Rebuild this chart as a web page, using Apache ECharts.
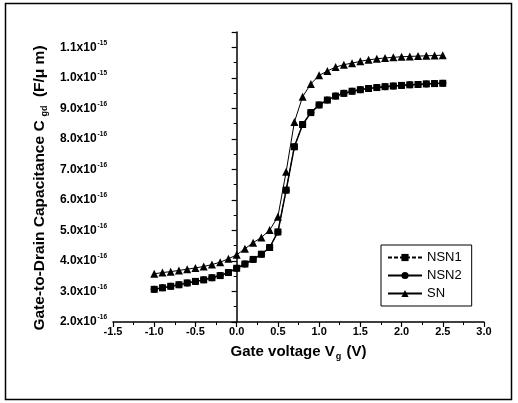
<!DOCTYPE html>
<html>
<head>
<meta charset="utf-8">
<script src="https://cdn.jsdelivr.net/npm/echarts@6/dist/echarts.min.js"></script>
<style>
html,body{margin:0;padding:0;background:#fff;}
#chart{width:518px;height:403px;}
</style>
</head>
<body>
<div id="chart"></div>
<script>
// Gate voltage (V)
const gateVoltage = [-1.0,-0.9,-0.8,-0.7,-0.6,-0.5,-0.4,-0.3,-0.2,-0.1,0.0,0.1,0.2,0.3,0.4,0.5,0.6,0.7,0.8,0.9,1.0,1.1,1.2,1.3,1.4,1.5,1.6,1.7,1.8,1.9,2.0,2.1,2.2,2.3,2.4,2.5];
// Cgd in units of 1e-16 F/um
const nsn1 = [3.07,3.12,3.17,3.22,3.28,3.33,3.38,3.45,3.52,3.62,3.76,3.90,4.05,4.22,4.44,4.95,6.32,7.74,8.47,8.86,9.11,9.27,9.40,9.49,9.56,9.61,9.65,9.68,9.71,9.73,9.75,9.77,9.78,9.80,9.81,9.82];
const nsn2 = [3.07,3.12,3.17,3.22,3.28,3.33,3.38,3.45,3.52,3.62,3.76,3.90,4.05,4.22,4.44,4.95,6.32,7.74,8.47,8.86,9.11,9.27,9.40,9.49,9.56,9.61,9.65,9.68,9.71,9.73,9.75,9.77,9.78,9.80,9.81,9.82];
const sn   = [3.58,3.62,3.65,3.69,3.73,3.77,3.82,3.88,3.96,4.07,4.20,4.40,4.60,4.77,5.01,5.45,6.92,8.55,9.38,9.80,10.08,10.22,10.35,10.43,10.48,10.54,10.59,10.62,10.65,10.67,10.69,10.70,10.71,10.72,10.73,10.74];
const seriesNames = ['NSN1','NSN2','SN'];
const xTickLabels = ['-1.5','-1.0','-0.5','0.0','0.5','1.0','1.5','2.0','2.5','3.0'];
const yTickLabels = ['2.0x10{sup|-16}','3.0x10{sup|-16}','4.0x10{sup|-16}','5.0x10{sup|-16}','6.0x10{sup|-16}','7.0x10{sup|-16}','8.0x10{sup|-16}','9.0x10{sup|-16}','1.0x10{sup|-15}','1.1x10{sup|-15}'];

const pair = arr => gateVoltage.map((x,i)=>[x,arr[i]]);
const font = 'Liberation Sans, Arial, sans-serif';

const chart = echarts.init(document.getElementById('chart'));
chart.setOption({
  animation:false,
  backgroundColor:'#fff',
  grid:{left:113,right:34,top:32,bottom:81},
  graphic:[{type:'rect',shape:{x:5.5,y:3.5,width:506,height:396},style:{fill:'none',stroke:'#000',lineWidth:1.5}}],
  xAxis:{
    type:'value',min:-1.5,max:3.0,interval:0.5,
    name:'Gate voltage V{sub|g} (V)',nameLocation:'middle',nameGap:20,
    nameTextStyle:{fontFamily:font,fontSize:15,fontWeight:'bold',color:'#000',
      rich:{sub:{fontFamily:font,fontSize:9,fontWeight:'bold',color:'#000',padding:[10,1,0,1]}}},
    axisLine:{lineStyle:{color:'#000',width:1.5}},
    axisTick:{inside:false,length:5,lineStyle:{color:'#000',width:1.2}},
    minorTick:{show:true,splitNumber:2,length:3,lineStyle:{color:'#000',width:1}},
    splitLine:{show:false},
    axisLabel:{fontFamily:font,fontSize:11,fontWeight:'bold',color:'#000',margin:4,
      formatter:v=>{const i=Math.round((v+1.5)/0.5);return xTickLabels[i]||'';}}
  },
  yAxis:{
    type:'value',min:2,max:11.5,interval:1,
    name:'Gate-to-Drain Capacitance C{sub|gd} (F/\u03bc m)',nameLocation:'middle',nameGap:64,nameRotate:90,
    nameTextStyle:{fontFamily:font,fontSize:15.5,fontWeight:'bold',color:'#000',padding:[0,22,0,0],
      rich:{sub:{fontFamily:font,fontSize:9,fontWeight:'bold',color:'#000',padding:[10,4,0,4]}}},
    axisLine:{show:true,lineStyle:{color:'#000',width:1.5}},
    axisTick:{show:true,inside:false,length:5,lineStyle:{color:'#000',width:1.2}},
    minorTick:{show:true,splitNumber:2,length:3,lineStyle:{color:'#000',width:1}},
    splitLine:{show:false},
    axisLabel:{fontFamily:font,fontSize:12,fontWeight:'bold',color:'#000',margin:6,
      rich:{sup:{fontFamily:font,fontSize:6.5,fontWeight:'bold',color:'#000',padding:[0,0,9,1]}},
      formatter:v=>{if(Math.abs(v-Math.round(v))>1e-6)return '';const i=Math.round(v-2);return yTickLabels[i]||'';}}
  },
  legend:{
    orient:'vertical',left:381,top:245,
    data:seriesNames,
    itemWidth:34,itemHeight:9,itemGap:5,
    padding:[6,10,6,6],
    borderColor:'#000',borderWidth:1,
    textStyle:{fontFamily:font,fontSize:13,color:'#000'}
  },
  series:[
    {name:'NSN2',type:'line',data:pair(nsn2),symbol:'circle',symbolSize:7,
      lineStyle:{color:'#000',width:1.5},itemStyle:{color:'#000'},z:2},
    {name:'NSN1',type:'line',data:pair(nsn1),symbol:'rect',symbolSize:7,
      lineStyle:{color:'#000',width:1,type:[4,2]},itemStyle:{color:'#000'},z:3},
    {name:'SN',type:'line',data:pair(sn),symbol:'triangle',symbolSize:8,
      lineStyle:{color:'#000',width:1},itemStyle:{color:'#000'},z:3}
  ]
});
</script>
</body>
</html>
